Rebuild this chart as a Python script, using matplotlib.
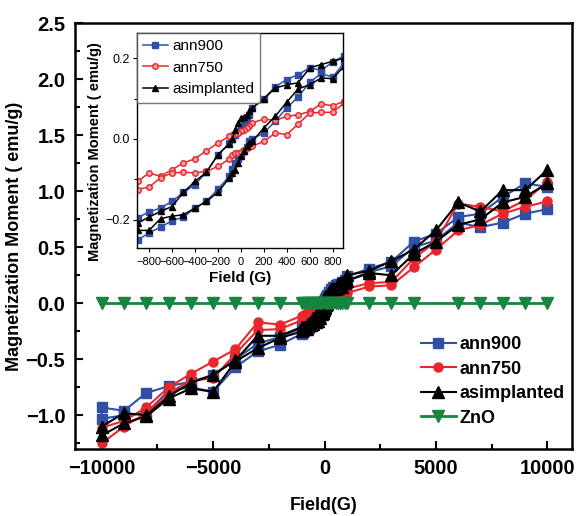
import matplotlib
matplotlib.use("Agg")
import matplotlib.pyplot as plt
from matplotlib.ticker import MultipleLocator

# outer field points (G) of the full loop, measured in 1 kG steps
FIELD_NEG = [-10000, -9000, -8000, -7000, -6000, -5000, -4000, -3000, -2000, -1000]
FIELD_POS = [1000, 2000, 3000, 4000, 5000, 6000, 7000, 8000, 9000, 10000]

# low-field points (G), shared by the inset and the centre of the main loop
FIELD_LOW = [-900, -800, -700, -600, -500, -400, -300, -200, -100, -75, -50, -25,
             0, 25, 50, 75, 100, 200, 300, 400, 500, 600, 700, 800, 900]

# ann900 (emu/g); "dn" = decreasing-field branch, "up" = increasing-field branch
ANN900_DN_NEG = [-0.93, -0.96, -0.80, -0.74, -0.70, -0.64, -0.50, -0.36, -0.30, -0.22]
ANN900_UP_NEG = [-1.03, -1.00, -0.98, -0.78, -0.75, -0.79, -0.57, -0.43, -0.37, -0.27]
ANN900_DN_POS = [0.24, 0.31, 0.37, 0.55, 0.62, 0.77, 0.80, 0.95, 1.07, 1.04]
ANN900_UP_POS = [0.20, 0.28, 0.33, 0.50, 0.56, 0.72, 0.68, 0.72, 0.80, 0.84]
ANN900_DN_LOW = [-0.195, -0.180, -0.171, -0.154, -0.132, -0.113, -0.082, -0.039, -0.010,
                 0.000, 0.010, 0.020, 0.030, 0.040, 0.045, 0.060, 0.077, 0.100, 0.129,
                 0.147, 0.159, 0.176, 0.170, 0.190, 0.206]
ANN900_UP_LOW = [-0.250, -0.232, -0.218, -0.202, -0.193, -0.171, -0.154, -0.124, -0.092,
                 -0.075, -0.060, -0.050, -0.040, -0.030, -0.020, -0.005, 0.000, 0.015,
                 0.044, 0.077, 0.104, 0.140, 0.162, 0.153, 0.188]

# ann750
ANN750_DN_NEG = [-1.11, -1.05, -0.93, -0.75, -0.63, -0.52, -0.41, -0.17, -0.19, -0.11]
ANN750_UP_NEG = [-1.25, -1.10, -0.98, -0.80, -0.69, -0.67, -0.45, -0.24, -0.23, -0.15]
ANN750_DN_POS = [0.13, 0.18, 0.19, 0.40, 0.55, 0.89, 0.86, 0.82, 0.92, 1.08]
ANN750_UP_POS = [0.09, 0.15, 0.16, 0.32, 0.48, 0.65, 0.70, 0.80, 0.86, 0.91]
ANN750_DN_LOW = [-0.105, -0.084, -0.092, -0.076, -0.059, -0.049, -0.029, -0.010, 0.007,
                 0.010, 0.013, 0.016, 0.019, 0.023, 0.027, 0.033, 0.040, 0.049, 0.046,
                 0.056, 0.060, 0.068, 0.087, 0.082, 0.093]
ANN750_UP_LOW = [-0.125, -0.119, -0.096, -0.084, -0.082, -0.084, -0.080, -0.068, -0.049,
                 -0.040, -0.035, -0.034, -0.033, -0.028, -0.022, -0.020, -0.018, -0.006,
                 0.015, 0.011, 0.037, 0.064, 0.066, 0.066, 0.089]

# asimplanted
ASIMP_DN_NEG = [-1.10, -0.98, -1.00, -0.83, -0.71, -0.64, -0.51, -0.29, -0.29, -0.21]
ASIMP_UP_NEG = [-1.18, -1.07, -1.01, -0.85, -0.76, -0.79, -0.52, -0.40, -0.31, -0.25]
ASIMP_DN_POS = [0.25, 0.29, 0.375, 0.48, 0.65, 0.90, 0.82, 1.01, 1.01, 1.19]
ASIMP_UP_POS = [0.20, 0.27, 0.25, 0.44, 0.55, 0.70, 0.75, 0.90, 0.95, 1.07]
ASIMP_DN_LOW = [-0.208, -0.193, -0.179, -0.167, -0.132, -0.105, -0.082, -0.039, -0.012,
                0.000, 0.023, 0.040, 0.052, 0.055, 0.060, 0.068, 0.077, 0.099, 0.126,
                0.134, 0.139, 0.176, 0.184, 0.192, 0.200]
ASIMP_UP_LOW = [-0.226, -0.226, -0.197, -0.191, -0.187, -0.171, -0.154, -0.132, -0.096,
                -0.085, -0.076, -0.060, -0.043, -0.030, -0.018, -0.010, -0.006, 0.027,
                0.056, 0.091, 0.124, 0.134, 0.151, 0.149, 0.180]

# ZnO reference sample
ZNO_FIELD = [-10000, -9000, -8000, -7000, -6000, -5000, -4000, -3000, -2000,
             -1000, -900, -800, -700, -600, -500, -400, -300, -200, -100, 0,
             100, 200, 300, 400, 500, 600, 700, 800, 900, 1000,
             2000, 3000, 4000, 6000, 7000, 8000, 9000, 10000]
ZNO_MOMENT = [0.0, 0.0, 0.0, 0.0, 0.0, 0.0, 0.0, 0.0, 0.0,
              0.0, 0.0, 0.0, 0.0, 0.0, 0.0, 0.0, 0.0, 0.0, 0.0, 0.0,
              0.0, 0.0, 0.0, 0.0, 0.0, 0.0, 0.0, 0.0, 0.0, 0.0,
              0.0, 0.0, 0.0, 0.0, 0.0, 0.0, 0.0, 0.0]

BLUE = "#3050a8"
RED = "#e8262c"
GREEN = "#17843f"


def full_loop(dn_neg, up_neg, dn_pos, up_pos, dn_low, up_low):
    # +10 kG -> -10 kG, then back up to +10 kG
    x = FIELD_POS[::-1] + FIELD_LOW[::-1] + FIELD_NEG[::-1] + FIELD_NEG + FIELD_LOW + FIELD_POS
    y = dn_pos[::-1] + dn_low[::-1] + dn_neg[::-1] + up_neg + up_low + up_pos
    return x, y


def low_loop(dn_low, up_low):
    x = FIELD_LOW[::-1] + FIELD_LOW
    y = dn_low[::-1] + up_low
    return x, y


SERIES = [
    ("ann900", BLUE, "s", (ANN900_DN_NEG, ANN900_UP_NEG, ANN900_DN_POS, ANN900_UP_POS,
                           ANN900_DN_LOW, ANN900_UP_LOW)),
    ("ann750", RED, "o", (ANN750_DN_NEG, ANN750_UP_NEG, ANN750_DN_POS, ANN750_UP_POS,
                          ANN750_DN_LOW, ANN750_UP_LOW)),
    ("asimplanted", "black", "^", (ASIMP_DN_NEG, ASIMP_UP_NEG, ASIMP_DN_POS, ASIMP_UP_POS,
                                   ASIMP_DN_LOW, ASIMP_UP_LOW)),
]


def main():
    plt.rcParams["font.family"] = ["Liberation Sans", "DejaVu Sans"]
    fig = plt.figure(figsize=(5.77, 5.16), dpi=100)
    ax = fig.add_axes([0.130, 0.130, 0.861, 0.825])

    for name, color, marker, branches in SERIES:
        x, y = full_loop(*branches)
        ms = 8 if marker == "^" else 6.5
        ax.plot(x, y, color=color, marker=marker, ms=ms, lw=1.5, label=name)
    ax.plot(ZNO_FIELD, ZNO_MOMENT, color=GREEN, marker="v", ms=8, lw=2, label="ZnO")

    ax.set_xlim(-11200, 11100)
    ax.set_ylim(-1.3, 2.5)
    ax.xaxis.set_major_locator(MultipleLocator(5000))
    ax.xaxis.set_minor_locator(MultipleLocator(2500))
    ax.yaxis.set_major_locator(MultipleLocator(0.5))
    ax.yaxis.set_minor_locator(MultipleLocator(0.25))
    ax.tick_params(which="both", direction="in", width=1.5)
    ax.tick_params(which="major", length=6, labelsize=14.5, pad=7)
    ax.tick_params(which="minor", length=3.5)
    for lab in ax.get_xticklabels() + ax.get_yticklabels():
        lab.set_fontweight("bold")
    for sp in ax.spines.values():
        sp.set_linewidth(1.8)
    ax.set_xlabel("Field(G)", fontsize=13, fontweight="bold", labelpad=14)
    ax.set_ylabel("Magnetization Moment ( emu/g)", fontsize=13, fontweight="bold",
                  labelpad=2)

    ax.legend(loc="lower right", bbox_to_anchor=(1.0, 0.035), borderaxespad=0,
              frameon=False, prop={"size": 13, "weight": "bold"}, handlelength=1.95,
              handletextpad=0.2, labelspacing=0.42)

    # low-field inset
    ins = fig.add_axes([0.2374, 0.519, 0.357, 0.417])
    for name, color, marker, branches in SERIES:
        x, y = low_loop(branches[4], branches[5])
        mfc = "#f4a0a0" if marker == "o" else color
        ins.plot(x, y, color=color, marker=marker, ms=4, mfc=mfc, lw=1.1, label=name)
    ins.set_xlim(-905, 890)
    ins.set_ylim(-0.27, 0.262)
    ins.xaxis.set_major_locator(MultipleLocator(200))
    ins.yaxis.set_major_locator(MultipleLocator(0.2))
    ins.yaxis.set_minor_locator(MultipleLocator(0.1))
    ins.tick_params(which="both", direction="out", width=0.8)
    ins.tick_params(which="major", length=3, pad=2)
    ins.tick_params(which="minor", length=2)
    ins.tick_params(axis="x", labelsize=8, pad=3)
    ins.tick_params(axis="y", labelsize=9)
    for sp in ins.spines.values():
        sp.set_linewidth(1.0)
    ins.set_xlabel("Field (G)", fontsize=11, fontweight="bold", labelpad=3)
    ins.set_ylabel("Magnetization Moment ( emu/g)", fontsize=10.5, fontweight="bold")
    ins.yaxis.set_label_coords(-0.17, 0.45)
    ins.legend(loc="upper left", borderaxespad=0, fancybox=False, edgecolor="#555555",
               prop={"size": 11}, handlelength=1.6, handletextpad=0.3,
               labelspacing=0.5, borderpad=0.4)

    fig.savefig("out.png", dpi=100)
    plt.close(fig)


if __name__ == "__main__":
    main()
